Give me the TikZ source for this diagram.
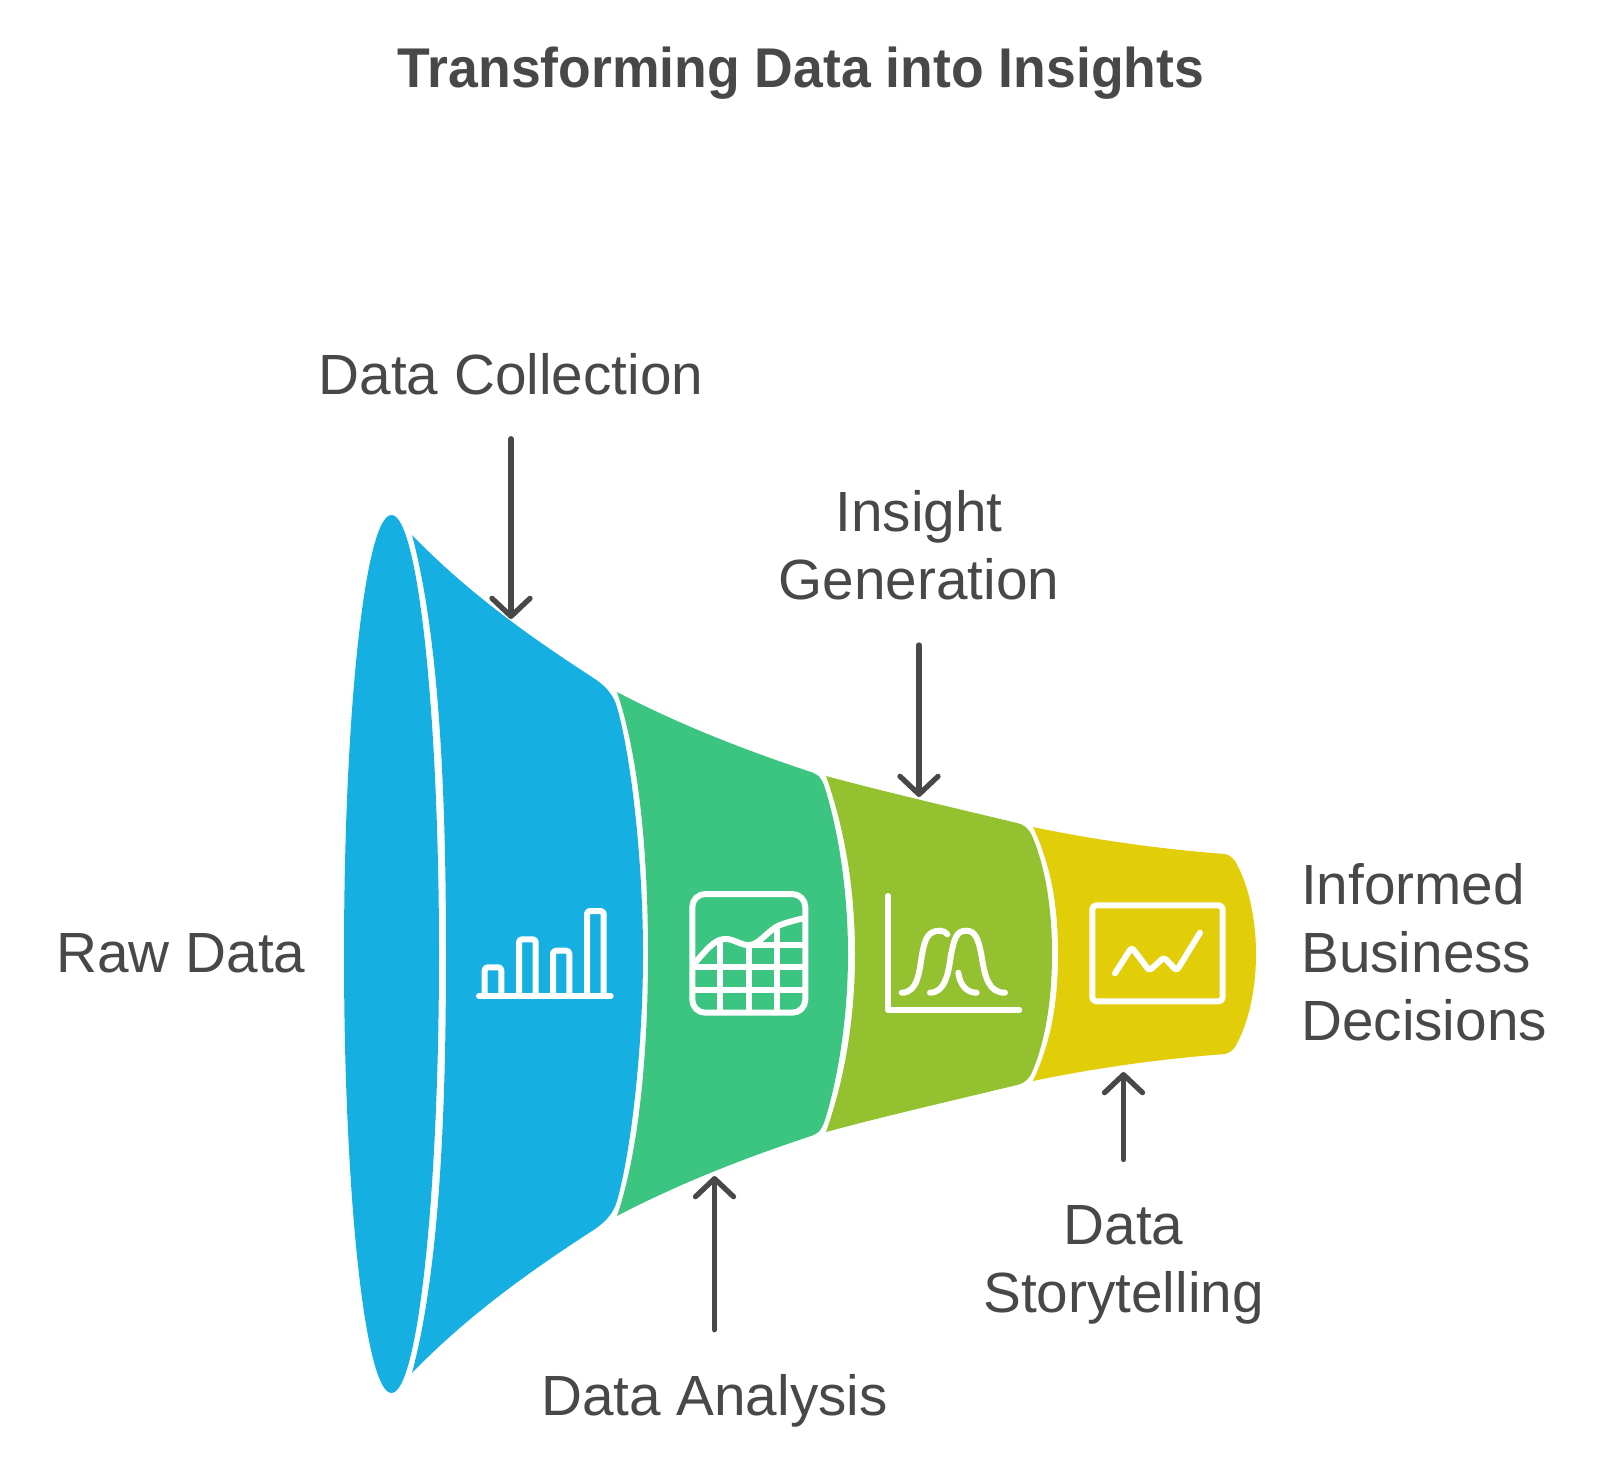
\documentclass[tikz,border=0pt]{standalone}
\usepackage{fontspec}
\setmainfont{Liberation Sans}
\newfontfamily\headfont[FakeStretch=0.956]{Liberation Sans}
\usetikzlibrary{arrows.meta}
\definecolor{seqblue}{HTML}{16AFE2}
\definecolor{seqgreen}{HTML}{3CC481}
\definecolor{seqolive}{HTML}{94C12F}
\definecolor{seqyellow}{HTML}{E2CE08}
\definecolor{inkgray}{HTML}{484848}

\begin{document}
\begin{tikzpicture}[
  x=1pt, y=-1pt,
  lab/.style={inner sep=0pt, text=inkgray, align=center,
    font=\fontsize{56.7}{68}\selectfont},
  headline/.style={inner sep=0pt, text=inkgray,
    font=\fontsize{56}{68}\selectfont\headfont\bfseries},
  flow/.style={draw=inkgray, line width=5.3pt, line cap=round,
    -{Straight Barb[length=18pt, width=38pt, round]}},
  icon/.style={draw=white, line width=6pt, line cap=round, line join=round},
]
  \useasboundingbox (0,0) rectangle (1600,1464);

  % funnel, left to right
  \fill[seqblue] (391.5,954) ellipse [x radius=47.5pt, y radius=439pt];

  \fill[seqblue] (412,535) .. controls (470,595) and (535,640) .. (592,677)
    .. controls (603,684) and (613,693) .. (617,707)
    .. controls (631,756) and (643,860) .. (643,954)
    .. controls (643,1048) and (631,1152) .. (617,1201)
    .. controls (613,1215) and (603,1224) .. (592,1231)
    .. controls (535,1268) and (470,1313) .. (412,1373)
    .. controls (440,1268) and (446,1108) .. (446,954)
    .. controls (446,800) and (440,640) .. (412,535) -- cycle;

  \fill[seqgreen] (617,692) .. controls (680,725) and (745,750) .. (808,771)
    .. controls (815,773) and (821,775) .. (825,788)
    .. controls (838,830) and (848,890) .. (848,954)
    .. controls (848,1018) and (838,1078) .. (825,1120)
    .. controls (821,1133) and (815,1135) .. (808,1137)
    .. controls (745,1158) and (680,1183) .. (617,1216)
    .. controls (640,1148) and (648,1048) .. (648,954)
    .. controls (648,860) and (640,760) .. (617,692) -- cycle;

  \fill[seqolive] (826,776) .. controls (885,792) and (955,808) .. (1017,823)
    .. controls (1023,824) and (1029,828) .. (1033,838)
    .. controls (1046,870) and (1052,910) .. (1052,954)
    .. controls (1052,998) and (1046,1038) .. (1033,1070)
    .. controls (1029,1080) and (1023,1084) .. (1017,1085)
    .. controls (955,1100) and (885,1116) .. (826,1132)
    .. controls (845,1078) and (855,1018) .. (855,954)
    .. controls (855,890) and (845,830) .. (826,776) -- cycle;

  \fill[seqyellow] (1033,827) .. controls (1095,840) and (1160,849) .. (1225,854)
    .. controls (1229,855) and (1232,857) .. (1235,861)
    .. controls (1249,885) and (1256,920) .. (1256,954)
    .. controls (1256,988) and (1249,1023) .. (1235,1047)
    .. controls (1232,1051) and (1229,1053) .. (1225,1054)
    .. controls (1160,1059) and (1095,1068) .. (1033,1081)
    .. controls (1052,1040) and (1058,1000) .. (1058,954)
    .. controls (1058,908) and (1052,868) .. (1033,827) -- cycle;

  % bars
  \draw[icon] (479,996) -- (610.7,996);
  \draw[icon, rounded corners=3pt] (484.7,996) |- (501.3,967.3) -- (501.3,996);
  \draw[icon, rounded corners=3pt] (519,996) |- (535.7,939.3) -- (535.7,996);
  \draw[icon, rounded corners=3pt] (553,996) |- (569.3,950.7) -- (569.3,996);
  \draw[icon, rounded corners=3pt] (587,996) |- (603.7,911) -- (603.7,996);

  % table with curve
  \draw[icon, rounded corners=13pt] (692.3,894) rectangle (805.3,1012.7);
  \draw[icon] (693,965) .. controls (705,952) and (713,940) .. (724,939)
    .. controls (733,938) and (741,946) .. (750,945)
    .. controls (760,944) and (768,930) .. (780,925)
    .. controls (788,922) and (796,920) .. (805,918);
  \draw[icon] (720.3,941) -- (720.3,1012);
  \draw[icon] (749,945) -- (749,1012);
  \draw[icon] (777,927) -- (777,1012);
  \draw[icon] (749,945) -- (805,945);
  \draw[icon] (693,967.3) -- (805,967.3);
  \draw[icon] (693,990) -- (805,990);

  % bell curves
  \draw[icon] (888,896) -- (888,1010) -- (1019.3,1010);
  \draw[icon] (901.7,992.7) .. controls (918.3,992.7) and (919.3,970) .. (922.3,953.3)
    .. controls (925,938.3) and (928.3,930.7) .. (940,930.7)
    .. controls (943.3,930.7) and (946,932.3) .. (947.3,934.3);
  \draw[icon] (930,992.7) .. controls (945,992.7) and (948.3,973.3) .. (950.7,956.7)
    .. controls (954,938.3) and (956.7,930.7) .. (966,930.7)
    .. controls (975.3,930.7) and (978.3,938.3) .. (981.7,956.7)
    .. controls (985,976.7) and (988.3,992.7) .. (1005,992.7);
  \draw[icon] (958.3,972.7) .. controls (960,985) and (966.7,992.7) .. (976.7,992.7);

  % screen
  \draw[icon, rounded corners=4pt] (1092.3,905.3) rectangle (1222.7,1001.3);
  \draw[icon, rounded corners=3pt] (1115,973.3) -- (1131.7,947.3) -- (1149.3,970.7)
    -- (1164,957.3) -- (1176.7,970.7) -- (1200,932.7);

  % labels
  \node[headline, anchor=base] (title) at (801,87) {Transforming Data into Insights};
  \node[lab, anchor=base] (collection) at (511,394) {Data Collection};
  \node[lab] (insight) at (919,545) {Insight\\Generation};
  \node[lab, anchor=base] (raw) at (181,972) {Raw Data};
  \node[lab, anchor=west, align=left] (decisions) at (1301,952) {Informed\\Business\\Decisions};
  \node[lab, anchor=base] (analysis) at (714.5,1415) {Data Analysis};
  \node[lab] (story) at (1123.5,1265) {Data\\Storytelling};

  % arrow ends on the funnel
  \coordinate (collecttip) at (511,619);
  \coordinate (insighttip) at (919,797);
  \coordinate (analysistip) at (714.5,1176);
  \coordinate (storytip) at (1123.5,1072);

  \draw[flow, shorten <=44pt] (collection.south) -- (collecttip);
  \draw[flow, shorten <=45pt] (insight.south) -- (insighttip);
  \draw[flow, shorten <=44pt] (analysis.north) -- (analysistip);
  \draw[flow, shorten <=46pt] (story.north) -- (storytip);
\end{tikzpicture}
\end{document}
